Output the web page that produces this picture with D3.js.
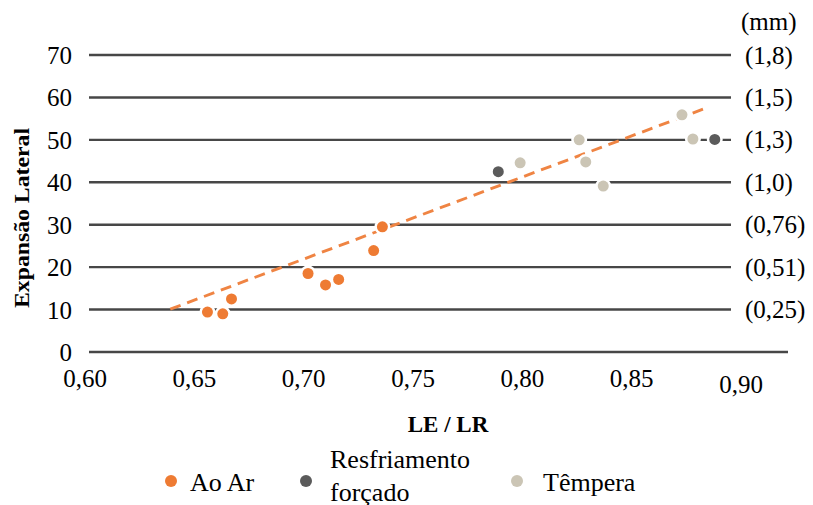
<!DOCTYPE html>
<html>
<head>
<meta charset="utf-8">
<script src="https://cdn.jsdelivr.net/npm/d3@7"></script>
<style>
 body { margin: 0; background: #ffffff; }
 text { font-family: "Liberation Serif", "Times New Roman", serif; fill: #000000; }
</style>
</head>
<body>
<div id="chartDiv"></div>
<script>
// values
var xTicks = [0.60, 0.65, 0.70, 0.75, 0.80, 0.85, 0.90];
var xTickLabels = ['0,60', '0,65', '0,70', '0,75', '0,80', '0,85', '0,90'];
var yTicks = [0, 10, 20, 30, 40, 50, 60, 70];
var mmTicks = [10, 20, 30, 40, 50, 60, 70];
var mmLabels = ['(0,25)', '(0,51)', '(0,76)', '(1,0)', '(1,3)', '(1,5)', '(1,8)'];

var seriesNames = ['Ao Ar', 'Resfriamento forçado', 'Têmpera'];
var seriesColors = ['#ee7b33', '#5b5b5b', '#cbc5b5'];

// Ao Ar
var aoArX = [0.656, 0.663, 0.667, 0.702, 0.710, 0.716, 0.732, 0.736];
var aoArY = [9.4, 9.0, 12.5, 18.5, 15.8, 17.1, 23.9, 29.5];
// Resfriamento forçado
var forcadoX = [0.789, 0.888];
var forcadoY = [42.5, 50.1];
// Têmpera
var temperaX = [0.799, 0.826, 0.829, 0.837, 0.873, 0.878];
var temperaY = [44.6, 50.0, 44.8, 39.1, 55.9, 50.2];
// dashed trend line (Ao Ar), two end points
var trendX = [0.639, 0.884];
var trendY = [10.1, 57.5];

function drawChart(parentDivId)
{
 // graphical parameters
 var graphicAtt = {};
 graphicAtt.svgWidth = 813;
 graphicAtt.svgHeight = 505;
 graphicAtt.gridLeft = 89;      // start of horizontal lines
 graphicAtt.gridRight = 731;    // end of lines 10..70
 graphicAtt.zeroRight = 788;    // end of the 0 line
 graphicAtt.fontSize = 25;
 graphicAtt.legendFontSize = 26;
 graphicAtt.markerR = 5.5;

 var svg = d3.select('#' + parentDivId).append('svg')
  .attr('width', graphicAtt.svgWidth)
  .attr('height', graphicAtt.svgHeight);

 var x = d3.scaleLinear().domain([0.60, 0.90]).range([85, 741]);
 var y = d3.scaleLinear().domain([0, 70]).range([352, 55]);

 // horizontal lines (0 line is longer)
 svg.append('g').attr('class', 'gridLayer').selectAll('line')
  .data(yTicks).enter().append('line')
  .attr('x1', graphicAtt.gridLeft)
  .attr('x2', function(d){ return d == 0 ? graphicAtt.zeroRight : graphicAtt.gridRight; })
  .attr('y1', function(d){ return y(d); })
  .attr('y2', function(d){ return y(d); })
  .style('stroke', '#474747')
  .style('stroke-width', 2.4);

 // left axis labels
 var yAxis = d3.axisLeft(y).tickValues(yTicks).tickSize(0).tickPadding(0);
 var yAxisG = svg.append('g').attr('transform', 'translate(72,0)').call(yAxis);
 yAxisG.select('.domain').remove();
 yAxisG.selectAll('text')
  .attr('dy', '0.34em')
  .style('font-size', graphicAtt.fontSize + 'px')
  .style('font-family', '"Liberation Serif", serif');

 // right labels in mm
 svg.append('g').selectAll('text')
  .data(mmTicks).enter().append('text')
  .attr('x', 745)
  .attr('y', function(d){ return y(d); })
  .attr('dy', '0.34em')
  .style('font-size', graphicAtt.fontSize + 'px')
  .text(function(d, i){ return mmLabels[i]; });
 svg.append('text').attr('x', 741).attr('y', 30)
  .style('font-size', graphicAtt.fontSize + 'px').text('(mm)');

 // bottom labels (last one sits a bit lower in the original)
 svg.append('g').selectAll('text')
  .data(xTicks).enter().append('text')
  .attr('x', function(d){ return x(d); })
  .attr('y', function(d, i){ return i == xTicks.length - 1 ? 393 : 387; })
  .attr('text-anchor', 'middle')
  .style('font-size', graphicAtt.fontSize + 'px')
  .text(function(d, i){ return xTickLabels[i]; });

 // axis titles
 svg.append('text').attr('x', 448).attr('y', 432)
  .attr('text-anchor', 'middle')
  .style('font-size', '23px').style('font-weight', 'bold')
  .text('LE / LR');
 svg.append('text')
  .attr('transform', 'translate(29,218) rotate(-90)')
  .attr('text-anchor', 'middle')
  .attr('textLength', 180).attr('lengthAdjust', 'spacingAndGlyphs')
  .style('font-size', '21px').style('font-weight', 'bold')
  .text('Expansão Lateral');

 // trend line under the markers
 var trendPts = trendX.map(function(d, i){ return [d, trendY[i]]; });
 svg.append('path')
  .attr('d', d3.line().x(function(d){ return x(d[0]); }).y(function(d){ return y(d[1]); })(trendPts))
  .style('fill', 'none')
  .style('stroke', '#ef8443')
  .style('stroke-width', 2.9)
  .style('stroke-dasharray', '11,7');

 // markers, white halo cuts the grid lines like in the original
 var allSeries = [[aoArX, aoArY], [forcadoX, forcadoY], [temperaX, temperaY]];
 var nodeLayer = svg.append('g').attr('class', 'nodeLayer');
 for(var s = 0; s < allSeries.length; s++)
 {
  var pts = allSeries[s][0].map(function(d, i){ return [d, allSeries[s][1][i]]; });
  nodeLayer.append('g').selectAll('circle')
   .data(pts).enter().append('circle')
   .attr('cx', function(d){ return x(d[0]); })
   .attr('cy', function(d){ return y(d[1]); })
   .attr('r', graphicAtt.markerR)
   .style('fill', seriesColors[s])
   .style('stroke', '#ffffff')
   .style('stroke-width', 5)
   .style('paint-order', 'stroke');
 }

 // legend
 var legendDotX = [171, 306, 517];
 var legendTextX = [190, 330, 543];
 var legend = svg.append('g').attr('class', 'legend');
 for(var k = 0; k < seriesNames.length; k++)
 {
  legend.append('circle')
   .attr('cx', legendDotX[k]).attr('cy', 481).attr('r', 6)
   .style('fill', seriesColors[k]);
  if(k == 1)
  {
   // two lines for the long name
   var words = seriesNames[k].split(' ');
   legend.append('text').attr('x', legendTextX[k]).attr('y', 468)
    .style('font-size', graphicAtt.legendFontSize + 'px').text(words[0]);
   legend.append('text').attr('x', legendTextX[k]).attr('y', 501)
    .style('font-size', graphicAtt.legendFontSize + 'px').text(words[1]);
  }
  else
  {
   legend.append('text').attr('x', legendTextX[k]).attr('y', 491)
    .style('font-size', graphicAtt.legendFontSize + 'px').text(seriesNames[k]);
  }
 }
}

drawChart('chartDiv');
</script>
</body>
</html>
